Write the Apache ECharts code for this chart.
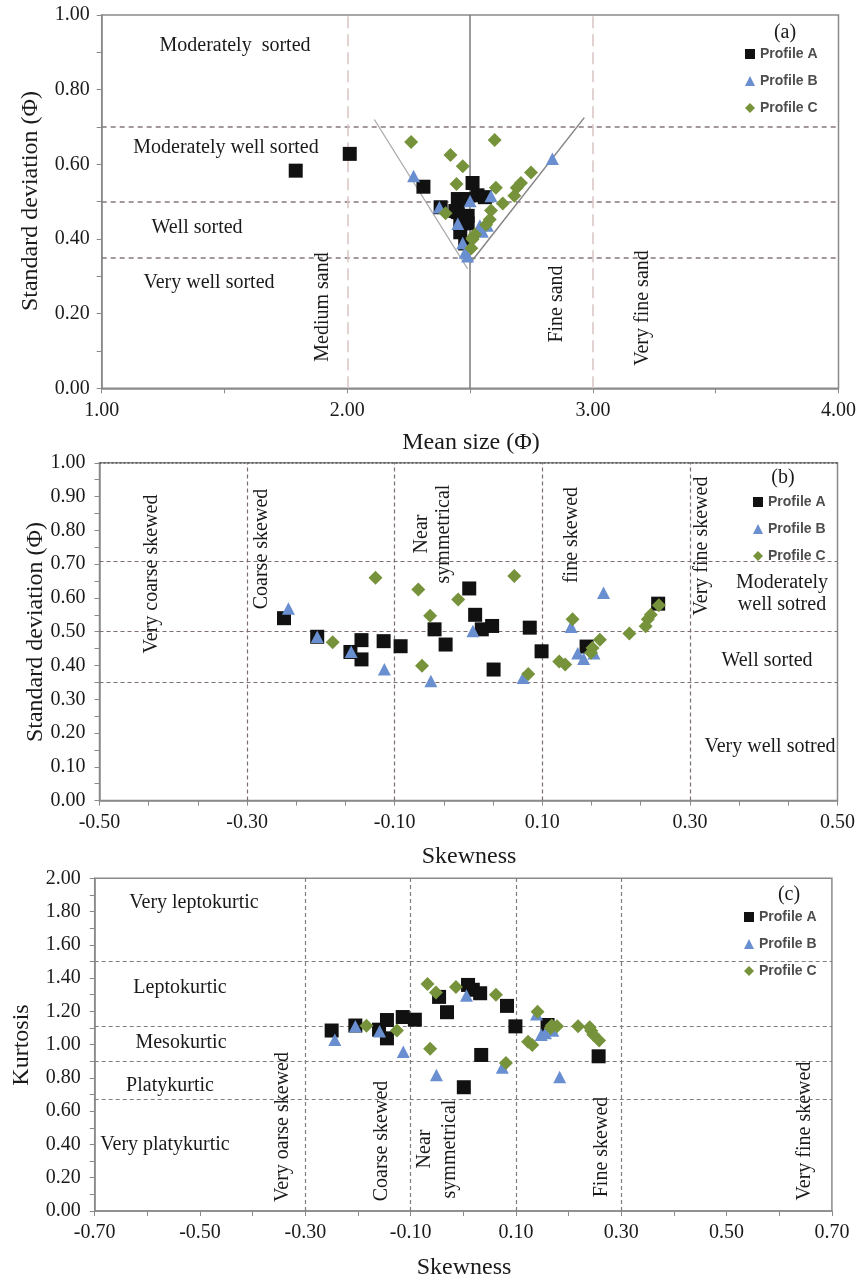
<!DOCTYPE html>
<html><head><meta charset="utf-8">
<script src="https://cdn.jsdelivr.net/npm/echarts@6/dist/echarts.min.js"></script>
<style>html,body{margin:0;padding:0;background:#fff}#c{width:859px;height:1280px}</style>
</head><body><div id="c"></div>
<script>
// ---------- data (one entry per sample) ----------
const profileA_mean = [2.31,2.38,2.46,2.44,2.46,2.45,2.47,2.45,2.49,2.01,2.51,2.48,2.53,2.48,2.56,2.49,2.47,1.79];
const profileA_sd   = [0.540,0.485,0.440,0.475,0.418,0.472,0.457,0.507,0.462,0.628,0.550,0.507,0.517,0.388,0.512,0.442,0.456,0.583];
const profileA_skew = [-0.250,-0.205,-0.160,-0.145,-0.145,-0.115,-0.092,-0.046,-0.031,0.001,0.009,0.018,0.032,0.034,0.083,0.099,0.160,0.257];
const profileA_kurt = [1.085,1.115,1.090,1.148,1.038,1.166,1.150,1.287,1.195,0.744,1.359,1.330,1.309,0.938,1.233,1.110,1.118,0.930];

const profileB_mean = [2.27,2.375,2.45,2.47,2.49,2.50,2.48,2.585,2.835,2.54,2.55,2.57];
const profileB_sd   = [0.569,0.485,0.441,0.389,0.354,0.502,0.364,0.515,0.615,0.436,0.420,0.436];
const profileB_skew = [-0.244,-0.205,-0.159,-0.114,-0.051,0.006,0.074,0.139,0.183,0.148,0.156,0.170];
const profileB_kurt = [1.030,1.110,1.080,0.957,0.818,1.295,0.863,1.182,0.805,1.060,1.070,1.085];

const profileC_mean = [2.26,2.42,2.47,2.445,2.40,2.51,2.60,2.505,2.605,2.52,2.51,2.565,2.58,2.585,2.633,2.68,2.69,2.707,2.748];
const profileC_sd   = [0.660,0.625,0.595,0.547,0.469,0.399,0.665,0.375,0.537,0.412,0.403,0.438,0.452,0.476,0.495,0.516,0.537,0.550,0.578];
const profileC_skew = [-0.126,-0.068,-0.014,-0.052,-0.184,-0.063,0.062,0.081,0.141,0.123,0.131,0.166,0.168,0.178,0.218,0.240,0.243,0.247,0.258];
const profileC_kurt = [1.085,1.365,1.347,1.313,1.113,0.976,1.300,0.890,1.198,1.018,0.998,1.100,1.115,1.110,1.110,1.105,1.083,1.060,1.025];

// class limits / reference lines
const sortingLimitsA = [0.70, 0.50, 0.35];
const sizeLimits = [2.00, 3.00];
const meanDivider = 2.50;
const envelopeLeft = [[2.11, 0.72], [2.49, 0.32]];
const envelopeRight = [[2.50, 0.335], [2.965, 0.725]];
const sortingLimitsB = [0.71, 0.50, 0.35];
const skewLimits = [-0.30, -0.10, 0.10, 0.30];
const kurtLimits = [1.50, 1.11, 0.90, 0.67];

// tick labels
const skewLabelsB = [-0.50, -0.30, -0.10, 0.10, 0.30, 0.50];
const skewTicksB = Array.from({length: 16}, (_, i) => -0.5 + i / 15);

const seriesNames = ['Profile A', 'Profile B', 'Profile C'];

// ---------- styling ----------
const SERIF = 'Liberation Serif';
const AX = '#8a8a8a';
const TXT = '#1a1a1a';
const sym = {
  'Profile A': {symbol: 'rect', symbolSize: 14, color: '#111111'},
  'Profile B': {symbol: 'triangle', symbolSize: [13, 12.5], color: '#6a8fd0'},
  'Profile C': {symbol: 'diamond', symbolSize: [14, 14], color: '#76933c'}
};
const pairs = (xs, ys) => xs.map((x, i) => [x, ys[i]]);

function axisBase(extra) {
  return Object.assign({
    type: 'value',
    axisLine: {show: true, onZero: false, lineStyle: {color: AX, width: 1.5}},
    axisTick: {show: true, length: 5, lineStyle: {color: AX, width: 1}},
    splitLine: {show: false},
    axisLabel: {fontFamily: SERIF, fontSize: 20, color: TXT}
  }, extra);
}

function pointSeries(name, data, gi) {
  return {
    name, type: 'scatter', xAxisIndex: gi, yAxisIndex: gi, data,
    symbol: sym[name].symbol, symbolSize: sym[name].symbolSize,
    itemStyle: {color: sym[name].color, opacity: 1}, z: 5, silent: true
  };
}
function lineSeries(gi, lines) {
  return {
    type: 'scatter', xAxisIndex: gi, yAxisIndex: gi, data: [], z: 1, silent: true,
    markLine: {symbol: ['none', 'none'], silent: true, animation: false, label: {show: false}, data: lines}
  };
}
const dashA = {color: '#85777f', type: [5, 4], width: 1.5};
const dashASize = {color: '#d9c4c4', type: [12, 6], width: 1.5};
const dashB = {color: '#7d6e6e', type: [4, 3], width: 1.2};
const dashC = {color: '#7f7f7f', type: [4, 3], width: 1.2};

const linesA = [
  ...sortingLimitsA.map(v => ({yAxis: v, lineStyle: dashA})),
  ...sizeLimits.map(v => ({xAxis: v, lineStyle: dashASize})),
  {xAxis: meanDivider, lineStyle: {color: '#7a7a7a', type: 'solid', width: 1.5}},
  [{coord: envelopeLeft[0], lineStyle: {color: '#a8a8a8', type: 'solid', width: 1.2}}, {coord: envelopeLeft[1]}],
  [{coord: envelopeRight[0], lineStyle: {color: '#858585', type: 'solid', width: 1.5}}, {coord: envelopeRight[1]}]
];
const linesB = [
  ...sortingLimitsB.map(v => ({yAxis: v, lineStyle: dashB})),
  ...skewLimits.map(v => ({xAxis: v, lineStyle: dashB})),
  {yAxis: 1.0, lineStyle: {color: '#555', type: [2, 2], width: 1.5}}
];
const linesC = [
  ...kurtLimits.map(v => ({yAxis: v, lineStyle: dashC})),
  ...skewLimits.map(v => ({xAxis: v, lineStyle: dashC}))
];

function txt(text, x, y, opt) {
  opt = opt || {};
  const fs = opt.fs || 20;
  return {
    type: 'text', x, y, rotation: opt.rot ? Math.PI / 2 : 0, z: 10, silent: true,
    style: {
      text, fill: TXT, font: (opt.bold ? 'bold ' : '') + fs + 'px "' + SERIF + '"',
      fontFamily: SERIF, fontSize: fs, lineHeight: opt.lh || fs * 1.1,
      textAlign: 'center', textVerticalAlign: 'middle', align: 'center', verticalAlign: 'middle'
    }
  };
}

const legendText = {fontFamily: 'Liberation Sans', fontWeight: 'bold', fontSize: 14, color: '#4d4d4d', lineHeight: 14};
function legendAt(left, top) {
  return {data: seriesNames, orient: 'vertical', left, top, itemWidth: 10, itemHeight: 10, itemGap: 13,
    selectedMode: false, textStyle: legendText, padding: 0};
}

const chart = echarts.init(document.getElementById('c'), null, {renderer: 'canvas'});
chart.setOption({
  animation: false,
  backgroundColor: '#ffffff',
  grid: [
    {left: 101.7, top: 15, width: 737.6, height: 373.3, show: true, borderColor: AX, borderWidth: 1.5},
    {left: 99.5, top: 462.8, width: 738, height: 337.8, show: true, borderColor: AX, borderWidth: 1.5},
    {left: 94.7, top: 878.3, width: 737.2, height: 332.7, show: true, borderColor: AX, borderWidth: 1.5}
  ],
  xAxis: [
    axisBase({gridIndex: 0, min: 1, max: 4, interval: 0.5,
      axisLabel: {fontFamily: SERIF, fontSize: 20, color: TXT, margin: 12,
        formatter: v => Math.abs(v - Math.round(v)) < 1e-6 ? v.toFixed(2) : ''}}),
    axisBase({gridIndex: 1, min: -0.5, max: 0.5,
      axisTick: {show: true, length: 5, lineStyle: {color: AX}, customValues: skewTicksB},
      axisLabel: {fontFamily: SERIF, fontSize: 20, color: TXT, margin: 12, customValues: skewLabelsB,
        formatter: v => v.toFixed(2)}}),
    axisBase({gridIndex: 2, min: -0.7, max: 0.7, interval: 0.1,
      axisLabel: {fontFamily: SERIF, fontSize: 20, color: TXT, margin: 12,
        formatter: v => Math.abs(Math.round(v * 10)) % 2 === 1 ? v.toFixed(2) : ''}})
  ],
  yAxis: [
    axisBase({gridIndex: 0, min: 0, max: 1, interval: 0.1,
      axisLabel: {fontFamily: SERIF, fontSize: 20, color: TXT, margin: 12,
        formatter: v => Math.round(v * 10) % 2 === 0 ? v.toFixed(2) : ''}}),
    axisBase({gridIndex: 1, min: 0, max: 1, interval: 0.05,
      axisLabel: {fontFamily: SERIF, fontSize: 20, color: TXT, margin: 14,
        formatter: v => Math.round(v * 100) % 10 === 0 ? v.toFixed(2) : ''}}),
    axisBase({gridIndex: 2, min: 0, max: 2, interval: 0.1,
      axisLabel: {fontFamily: SERIF, fontSize: 20, color: TXT, margin: 14,
        formatter: v => Math.round(v * 10) % 2 === 0 ? v.toFixed(2) : ''}})
  ],
  legend: [legendAt(745, 47), legendAt(753, 495), legendAt(744, 910)],
  series: [
    lineSeries(0, linesA),
    pointSeries('Profile A', pairs(profileA_mean, profileA_sd), 0),
    pointSeries('Profile B', pairs(profileB_mean, profileB_sd), 0),
    pointSeries('Profile C', pairs(profileC_mean, profileC_sd), 0),
    lineSeries(1, linesB),
    pointSeries('Profile A', pairs(profileA_skew, profileA_sd), 1),
    pointSeries('Profile B', pairs(profileB_skew, profileB_sd), 1),
    pointSeries('Profile C', pairs(profileC_skew, profileC_sd), 1),
    lineSeries(2, linesC),
    pointSeries('Profile A', pairs(profileA_skew, profileA_kurt), 2),
    pointSeries('Profile B', pairs(profileB_skew, profileB_kurt), 2),
    pointSeries('Profile C', pairs(profileC_skew, profileC_kurt), 2)
  ],
  graphic: [
    // panel (a)
    txt('(a)', 785, 33),
    txt('Moderately  sorted', 235, 46),
    txt('Moderately well sorted', 226, 148),
    txt('Well sorted', 197, 228),
    txt('Very well sorted', 209, 283),
    txt('Medium sand', 323, 307, {rot: true}),
    txt('Fine sand', 557, 304, {rot: true}),
    txt('Very fine sand', 643, 308, {rot: true}),
    txt('Standard deviation (Φ)', 31, 201, {rot: true, fs: 24}),
    txt('Mean size (Φ)', 471, 443, {fs: 24}),
    // panel (b)
    txt('(b)', 783, 478),
    txt('Very coarse skewed', 152, 574, {rot: true}),
    txt('Coarse skewed', 262, 549, {rot: true}),
    txt('Near\nsymmetrical', 433, 534, {rot: true, lh: 22}),
    txt('fine skewed', 572, 535, {rot: true}),
    txt('Very fine skewed', 702, 546, {rot: true}),
    txt('Moderately\nwell sotred', 782, 594, {lh: 22}),
    txt('Well sorted', 767, 661),
    txt('Very well sotred', 770, 747),
    txt('Standard deviation (Φ)', 36, 632, {rot: true, fs: 24}),
    txt('Skewness', 469, 857, {fs: 24}),
    // panel (c)
    txt('(c)', 789, 895),
    txt('Very leptokurtic', 194, 903),
    txt('Leptokurtic', 180, 988),
    txt('Mesokurtic', 181, 1043),
    txt('Platykurtic', 170, 1086),
    txt('Very platykurtic', 165, 1145),
    txt('Very oarse skewed', 283, 1127, {rot: true}),
    txt('Coarse skewed', 382, 1141, {rot: true}),
    txt('Near\nsymmetrical', 437, 1149, {rot: true, lh: 25}),
    txt('Fine skewed', 602, 1147, {rot: true}),
    txt('Very fine skewed', 805, 1131, {rot: true}),
    txt('Kurtosis', 22, 1045, {rot: true, fs: 24}),
    txt('Skewness', 464, 1268, {fs: 24})
  ]
});
</script></body></html>
